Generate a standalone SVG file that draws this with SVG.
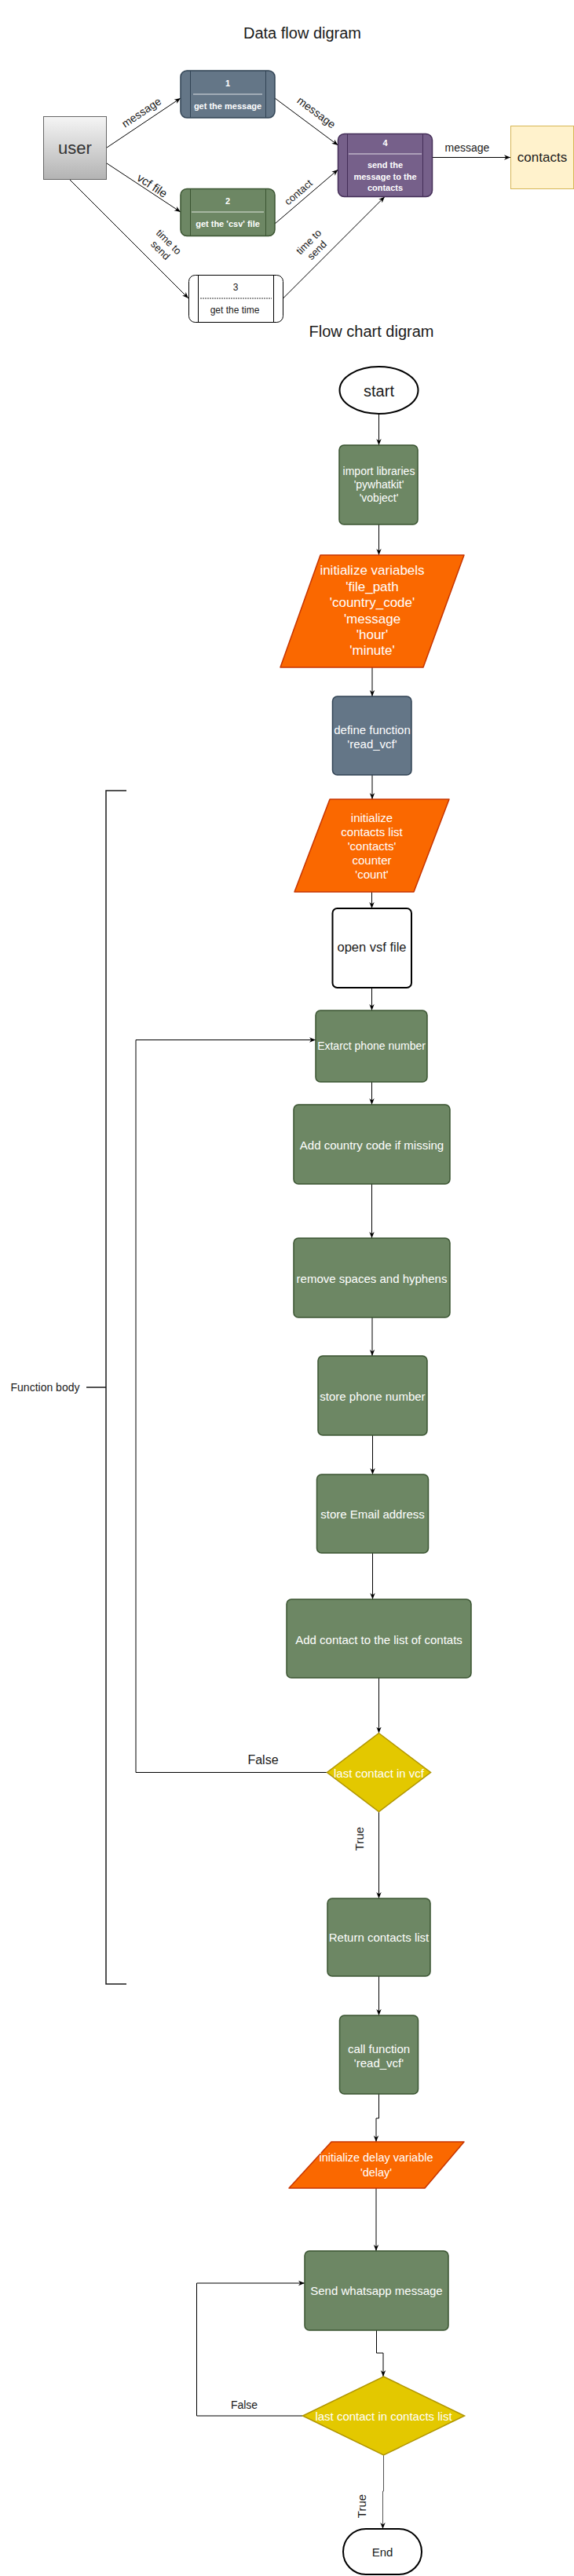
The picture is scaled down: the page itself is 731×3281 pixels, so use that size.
<svg xmlns="http://www.w3.org/2000/svg" width="731" height="3281" viewBox="0 0 731 3281">
<style>
text{font-family:"Liberation Sans",Arial,sans-serif;dominant-baseline:central;text-anchor:middle}
.w{fill:#ffffff}
.dk{fill:#1a1a1a}
.b{font-weight:bold}
.ln{fill:none;stroke:#000;stroke-width:1}
.green{fill:#6d8764;stroke:#3a5431;stroke-width:1.5}
.blue{fill:#647687;stroke:#314354;stroke-width:1.5}
.purple{fill:#76608a;stroke:#432d57;stroke-width:1.5}
.orange{fill:#fa6800;stroke:#c73500;stroke-width:1.5;stroke-linejoin:round}
.yellow{fill:#e3c800;stroke:#b09500;stroke-width:1.5}
</style>
<defs>
<marker id="arr" viewBox="0 0 10 10" refX="10" refY="5" markerWidth="8" markerHeight="8" markerUnits="userSpaceOnUse" orient="auto"><path d="M0,1 L10,5 L0,9 L3,5 z" fill="#000"/></marker>
<linearGradient id="ug" x1="0" y1="0" x2="0" y2="1"><stop offset="0" stop-color="#f5f5f5"/><stop offset="1" stop-color="#b3b3b3"/></linearGradient>
</defs>

<text x="385" y="42" font-size="20" class="dk">Data flow digram</text>
<text x="473" y="422" font-size="20" class="dk">Flow chart digram</text>

<g id="connectors">
<g class="ln" marker-end="url(#arr)">
<line x1="136" y1="188" x2="230" y2="125"/>
<line x1="136" y1="208" x2="230" y2="270"/>
<line x1="85" y1="225" x2="240" y2="380"/>
<line x1="350" y1="125" x2="430.5" y2="185"/>
<line x1="350" y1="285" x2="430.5" y2="216"/>
<line x1="360.5" y1="380" x2="490" y2="250.5"/>
<line x1="550.5" y1="200.5" x2="650" y2="200.5"/>
<line x1="482.5" y1="527" x2="482.5" y2="567"/>
<line x1="482.5" y1="668" x2="482.5" y2="707"/>
<line x1="474" y1="850" x2="474" y2="887"/>
<line x1="474" y1="987" x2="474" y2="1018"/>
<line x1="473.5" y1="1136" x2="473.5" y2="1157"/>
<line x1="473.5" y1="1258" x2="473.5" y2="1287"/>
<line x1="473.5" y1="1378" x2="473.5" y2="1407"/>
<line x1="473.5" y1="1508" x2="473.5" y2="1577"/>
<line x1="474" y1="1678" x2="474" y2="1727"/>
<line x1="474.5" y1="1828" x2="474.5" y2="1878"/>
<line x1="474.5" y1="1978" x2="474.5" y2="2037"/>
<line x1="482.5" y1="2137" x2="482.5" y2="2207.5"/>
<line x1="482.5" y1="2307.5" x2="482.5" y2="2418"/>
<polyline points="416.5,2257.5 173,2257.5 173,1324.5 402,1324.5"/>
<line x1="482.5" y1="2517" x2="482.5" y2="2567"/>
<polyline points="482.5,2667 482.5,2698 479,2698 479,2728"/>
<line x1="479" y1="2787" x2="479" y2="2867"/>
<polyline points="479.5,2968 479.5,2997 488,2997 488,3027"/>
<polyline points="385.5,3077 250.5,3077 250.5,2908 388,2908"/>
<polyline points="488.5,3127 488.5,3173 487.5,3173 487.5,3221" stroke="#555"/>
</g>
<text transform="translate(180,143) rotate(-33.7)" font-size="14" class="dk">message</text>
<text transform="translate(194,236) rotate(33.4)" font-size="15" class="dk">vcf file</text>
<text transform="translate(210,313) rotate(45)" font-size="13" class="dk"><tspan x="0" dy="-7.5">time to</tspan><tspan x="0" dy="15">send</tspan></text>
<text transform="translate(403,143) rotate(36.9)" font-size="14" class="dk">message</text>
<text transform="translate(380,245) rotate(-40.8)" font-size="13" class="dk">contact</text>
<text transform="translate(398,313) rotate(-44.8)" font-size="13" class="dk"><tspan x="0" dy="-7.5">time to</tspan><tspan x="0" dy="15">send</tspan></text>
<text x="595" y="188" font-size="14" class="dk">message</text>
<text x="335" y="2241" font-size="16" class="dk">False</text>
<text transform="translate(457,2342) rotate(-90)" font-size="15" class="dk">True</text>
<text x="311" y="3063" font-size="14" class="dk">False</text>
<text transform="translate(460,3192) rotate(-90)" font-size="15" class="dk">True</text>
</g>

<g id="user">
<rect x="55.5" y="148.5" width="80" height="80" fill="url(#ug)" stroke="#666" stroke-width="1"/>
<text x="95.5" y="188" font-size="22" fill="#333">user</text>
</g>
<g id="p1">
<rect x="230" y="90" width="120" height="60" rx="8" class="blue"/>
<line x1="242.5" y1="90" x2="242.5" y2="150" stroke="#314354"/>
<line x1="338.5" y1="90" x2="338.5" y2="150" stroke="#314354"/>
<text x="290" y="106" font-size="11" class="w b">1</text>
<line x1="246" y1="120" x2="334" y2="120" stroke="#fff" stroke-width="0.8"/>
<text x="290" y="134.5" font-size="11" class="w b">get the message</text>
</g>
<g id="p2">
<rect x="230" y="240.5" width="120" height="60" rx="8" class="green"/>
<line x1="242.5" y1="240.5" x2="242.5" y2="300.5" stroke="#3a5431"/>
<line x1="338.5" y1="240.5" x2="338.5" y2="300.5" stroke="#3a5431"/>
<text x="290" y="256" font-size="11" class="w b">2</text>
<line x1="244" y1="270" x2="336" y2="270" stroke="#fff" stroke-width="0.8"/>
<text x="290" y="284.5" font-size="11" class="w b">get the 'csv' file</text>
</g>
<g id="p3">
<rect x="240.5" y="350.5" width="120" height="60" rx="8" fill="#fff" stroke="#000"/>
<line x1="252.5" y1="350.5" x2="252.5" y2="410.5" stroke="#000"/>
<line x1="348.5" y1="350.5" x2="348.5" y2="410.5" stroke="#000"/>
<text x="300" y="366" font-size="12" class="dk">3</text>
<line x1="255" y1="380" x2="346" y2="380" stroke="#000" stroke-width="0.8" stroke-dasharray="2,1"/>
<text x="299" y="395" font-size="12" class="dk">get the time</text>
</g>
<g id="p4">
<rect x="430.5" y="170.5" width="120" height="80" rx="8" class="purple"/>
<line x1="442.5" y1="170.5" x2="442.5" y2="250.5" stroke="#432d57"/>
<line x1="538.5" y1="170.5" x2="538.5" y2="250.5" stroke="#432d57"/>
<text x="490.5" y="182" font-size="11" class="w b">4</text>
<line x1="444" y1="196" x2="537" y2="196" stroke="#fff" stroke-width="0.8"/>
<text x="490.5" y="210" font-size="11" class="w b">send the</text>
<text x="490.5" y="224.5" font-size="11" class="w b">message to the</text>
<text x="490.5" y="238.5" font-size="11" class="w b">contacts</text>
</g>
<g id="contacts">
<rect x="650.5" y="160.5" width="80" height="80" fill="#fff2cc" stroke="#d6b656" stroke-width="1"/>
<text x="690.5" y="200" font-size="17" class="dk">contacts</text>
</g>

<g id="start">
<ellipse cx="482.5" cy="497" rx="50" ry="30" fill="#fff" stroke="#000" stroke-width="2"/>
<text x="482.5" y="497.5" font-size="20" class="dk">start</text>
</g>
<g id="import">
<rect x="432" y="567" width="100" height="101" rx="6" class="green"/>
<text x="482.5" y="600" font-size="14" class="w">import libraries</text>
<text x="482.5" y="617" font-size="14" class="w">'pywhatkit'</text>
<text x="482.5" y="634" font-size="14" class="w">'vobject'</text>
</g>
<g id="initvars">
<polygon points="408,707 591,707 539,850 357,850" class="orange"/>
<text x="474" y="726" font-size="17" class="w">initialize variabels</text>
<text x="474" y="747" font-size="17" class="w">'file_path</text>
<text x="474" y="767" font-size="17" class="w">'country_code'</text>
<text x="474" y="788" font-size="17" class="w">'message</text>
<text x="474" y="808" font-size="17" class="w">'hour'</text>
<text x="474" y="828" font-size="17" class="w">'minute'</text>
</g>
<g id="define">
<rect x="423.5" y="887" width="100.5" height="100" rx="6" class="blue"/>
<text x="474" y="929" font-size="15" class="w">define function</text>
<text x="474" y="947" font-size="15" class="w">'read_vcf'</text>
</g>
<g id="bracket">
<polyline points="161,1007 135,1007 135,2527 161,2527" fill="none" stroke="#1a1a1a" stroke-width="1.5"/>
<line x1="110" y1="1767" x2="135" y2="1767" stroke="#1a1a1a" stroke-width="1.5"/>
<text x="57.5" y="1767" font-size="14" class="dk">Function body</text>
</g>
<g id="initcontacts">
<polygon points="420,1018 572,1018 527,1136 375,1136" class="orange"/>
<text x="473.5" y="1041.5" font-size="15" class="w">initialize</text>
<text x="473.5" y="1059.5" font-size="15" class="w">contacts list</text>
<text x="473.5" y="1077.5" font-size="15" class="w">'contacts'</text>
<text x="473.5" y="1095.5" font-size="15" class="w">counter</text>
<text x="473.5" y="1113.5" font-size="15" class="w">'count'</text>
</g>
<g id="openfile">
<rect x="423.5" y="1157" width="100.5" height="101" rx="6" fill="#fff" stroke="#000" stroke-width="2"/>
<text x="473.5" y="1206" font-size="16.5" class="dk">open vsf file</text>
</g>
<g id="extract">
<rect x="402" y="1287" width="142" height="91" rx="6" class="green"/>
<text x="473" y="1332" font-size="14" class="w">Extarct phone number</text>
</g>
<g id="addcc">
<rect x="374" y="1407" width="199" height="101" rx="6" class="green"/>
<text x="473.5" y="1458" font-size="15" class="w">Add country code if missing</text>
</g>
<g id="remove">
<rect x="374" y="1577" width="199" height="101" rx="6" class="green"/>
<text x="473.5" y="1628" font-size="15" class="w">remove spaces and hyphens</text>
</g>
<g id="storephone">
<rect x="405" y="1727" width="139" height="101" rx="6" class="green"/>
<text x="474.5" y="1778" font-size="15" class="w">store phone number</text>
</g>
<g id="storeemail">
<rect x="403.5" y="1878" width="142" height="100" rx="6" class="green"/>
<text x="474.5" y="1928" font-size="15" class="w">store Email address</text>
</g>
<g id="addcontact">
<rect x="365" y="2037" width="235" height="100" rx="6" class="green"/>
<text x="482.5" y="2088" font-size="15" class="w">Add contact to the list of contats</text>
</g>
<g id="decision1">
<polygon points="482.5,2207.5 548.5,2257.5 482.5,2307.5 416.5,2257.5" class="yellow"/>
<text x="482.5" y="2258" font-size="15" class="w">last contact in vcf</text>
</g>
<g id="return">
<rect x="417" y="2418" width="131" height="99" rx="6" class="green"/>
<text x="482.5" y="2467" font-size="15" class="w">Return contacts list</text>
</g>
<g id="callfn">
<rect x="432.5" y="2567" width="100" height="100" rx="6" class="green"/>
<text x="482.5" y="2609" font-size="15" class="w">call function</text>
<text x="482.5" y="2627" font-size="15" class="w">'read_vcf'</text>
</g>
<g id="delay">
<polygon points="422,2728 591,2728 541,2787 368,2787" class="orange"/>
<text x="479" y="2748" font-size="14.5" class="w">initialize delay variable</text>
<text x="479" y="2767" font-size="14.5" class="w">'delay'</text>
</g>
<g id="send">
<rect x="388" y="2867" width="183" height="101" rx="6" class="green"/>
<text x="479.5" y="2917.5" font-size="15" class="w">Send whatsapp message</text>
</g>
<g id="decision2">
<polygon points="488.5,3027 591.5,3077 488.5,3127 385.5,3077" class="yellow"/>
<text x="488.5" y="3077.5" font-size="15" class="w">last contact in contacts list</text>
</g>
<g id="end">
<rect x="437" y="3221" width="100" height="58" rx="29" fill="#fff" stroke="#000" stroke-width="2"/>
<text x="487" y="3250" font-size="15" class="dk">End</text>
</g>
</svg>
